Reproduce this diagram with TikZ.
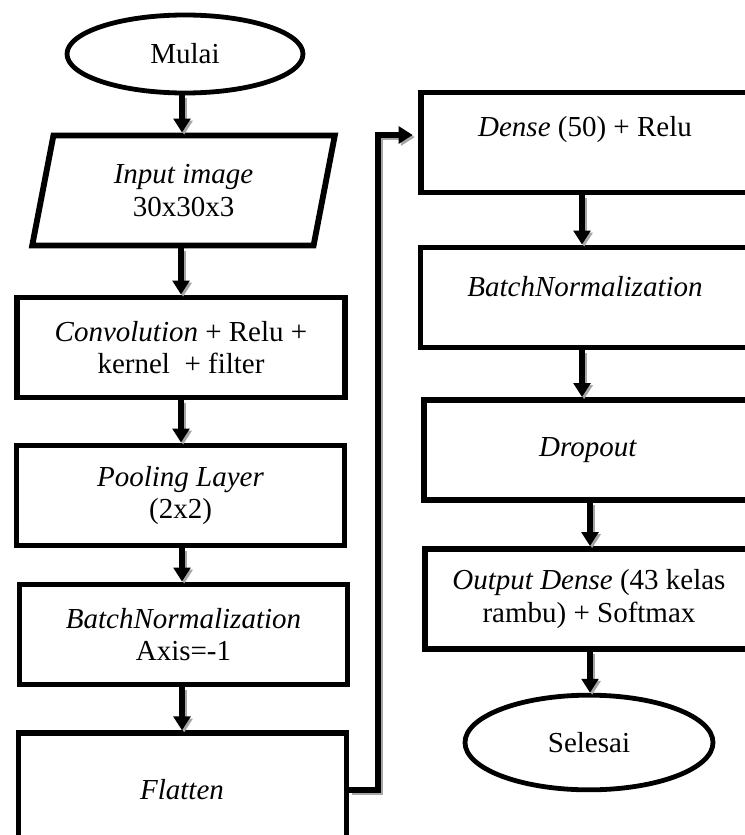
\documentclass[tikz,border=0pt]{standalone}
\usepackage{fontspec}
\setmainfont{Liberation Serif}
\usetikzlibrary{arrows.meta,shapes.geometric,calc}
\begin{document}
\begin{tikzpicture}[x=0.75pt,y=-0.75pt,
  txt/.style={font=\fontsize{21.75}{24.5}\selectfont, align=center, inner sep=0pt},
  box/.style={txt, draw, line width=4.4pt, rectangle, minimum width=246pt, minimum height=75pt},
  term/.style={txt, draw, line width=3.6pt, ellipse, inner sep=0pt},
  io/.style={txt, draw, line width=4.4pt, trapezium, trapezium left angle=77.7, trapezium right angle=102.3,
    trapezium stretches=true, minimum width=227pt, minimum height=82.5pt},
  arr/.style={line width=4.2pt, -{Triangle[width=12.5pt,length=10.5pt]},
    preaction={draw=black!35, line width=4.2pt, -{Triangle[width=12.5pt,length=10.5pt]},
      transform canvas={shift={(1.6pt,-1.6pt)}}}}
]
\useasboundingbox (0,0) rectangle (745,835);
\clip (0,0) rectangle (745,835);
% left column
\node[term, minimum width=177pt, minimum height=58.5pt] (mulai) at (185,54) {Mulai};
\node[io] (input) at (183.5,190.5) {\textit{Input image}\\30x30x3};
\node[box] (conv) at (181,347.5) {\textit{Convolution} + Relu +\\kernel~~+ filter};
\node[box] (pool) at (180.5,495.5) {\textit{Pooling Layer}\\(2x2)};
\node[box] (bna) at (183.5,634.5) {\textit{BatchNormalization}\\Axis=-1};
\node[box, minimum height=112pt] (flat) at (182.5,808) {};
\node[txt] (tflat) at (182,790) {\textit{Flatten}};
% right column
\node[box] (dense) at (585,142.5) {};
\node[txt] (tdense) at (585,130) {\textit{Dense} (50) + Relu};
\node[box] (bnb) at (584.5,297.5) {};
\node[txt] (tbnb) at (585,287) {\textit{BatchNormalization}};
\node[box] (drop) at (588,450) {\textit{Dropout}};
\node[box] (out) at (589,599) {\textit{Output Dense} (43 kelas\\rambu) + Softmax};
\node[term, minimum width=186pt, minimum height=71pt] (selesai) at (589,742.5) {Selesai};
\coordinate (bend) at (378,135);
% connectors
\draw[arr] (mulai.south -| 182,0) -- (input.north -| 182,0);
\draw[arr] (input.south -| 181,0) -- (conv.north -| 181,0);
\draw[arr] (conv.south -| 181,0) -- (pool.north -| 181,0);
\draw[arr] (pool.south -| 182,0) -- (bna.north -| 182,0);
\draw[arr] (bna.south -| 182,0) -- (flat.north -| 182,0);
\draw[arr] (tflat -| flat.east) -| (bend) -- ([xshift=-4pt]bend -| dense.west);
\draw[arr] (dense.south -| 582,0) -- (bnb.north -| 582,0);
\draw[arr] (bnb.south -| 582,0) -- (drop.north -| 582,0);
\draw[arr] (drop.south -| 590,0) -- (out.north -| 590,0);
\draw[arr] (out.south -| 590,0) -- (selesai.north -| 590,0);
\end{tikzpicture}
\end{document}
